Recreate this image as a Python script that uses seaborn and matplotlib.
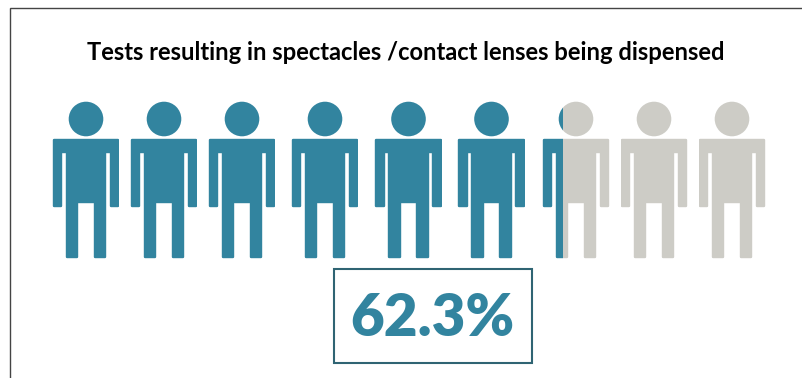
import matplotlib
matplotlib.use("Agg")
import matplotlib.pyplot as plt
from matplotlib.patches import Circle, PathPatch, Rectangle
from matplotlib.path import Path
import seaborn as sns

sns.set_theme(style="white")
plt.rcParams["font.family"] = ["Lato", "DejaVu Sans"]

title_text = "Tests resulting in spectacles /contact lenses being dispensed"
headline_value = 62.3
filled_share = [1, 1, 1, 1, 1, 1, 0.306, 0, 0]
icon_centres = [86, 164, 242, 325, 408.5, 491.5, 576, 654, 732]

TEAL = "#32849F"
STONE = "#CDCCC6"
BOX_EDGE = "#2F6473"
FRAME = "#444444"

# Half a silhouette from the shoulder centre outwards and down to the foot.
# The outline sits inset by the stroke radius, so the stroke rounds the corners.
INSET = 1.2
HALF_BODY = [(0, 139 + INSET), (33.4 - INSET, 139 + INSET), (33.4 - INSET, 207.3 - INSET),
             (23.6 + INSET, 207.3 - INSET), (23.6 + INSET, 152.7 - INSET),
             (20.4 - INSET, 152.7 - INSET), (20.4 - INSET, 258 - INSET),
             (7.6 + INSET, 258 - INSET), (7.6 + INSET, 203.3 - INSET), (0, 203.3 - INSET)]


def body_path(cx):
    right = [(cx + dx, y) for dx, y in HALF_BODY]
    left = [(cx - dx, y) for dx, y in reversed(HALF_BODY)]
    verts = right + left
    return Path(verts + [verts[0]], [Path.MOVETO] + [Path.LINETO] * (len(verts) - 1) + [Path.CLOSEPOLY])


fig = plt.figure(figsize=(8.02, 3.78), dpi=100)
ax = fig.add_axes([0, 0, 1, 1])
ax.set_xlim(0, 802)
ax.set_ylim(378, 0)
ax.axis("off")


def draw_icon(cx, color, clip=None):
    stroke = 2 * INSET * 72 / fig.dpi
    for patch in (PathPatch(body_path(cx), fc=color, ec=color, lw=stroke, joinstyle="round"),
                  Circle((cx, 119), 17.3, fc=color, ec="none")):
        ax.add_patch(patch)
        if clip is not None:
            patch.set_clip_path(clip)


for cx, share in zip(icon_centres, filled_share):
    left, right = cx - 35, cx + 35
    split = cx - 33.4 + 66.8 * share
    if share > 0:
        draw_icon(cx, TEAL, Rectangle((left, 90), split - left, 180, transform=ax.transData))
    if share < 1:
        draw_icon(cx, STONE, Rectangle((split, 90), right - split, 180, transform=ax.transData))

# Frame along the top and left edges of the slide.
ax.plot([10.3, 10.3, 802], [378, 8.2, 8.2], color=FRAME, lw=1.0, solid_joinstyle="miter")

ax.text(406, 52, title_text, ha="center", va="center", fontsize=17.1,
        fontweight="bold", color="black")

ax.add_patch(Rectangle((333.7, 269), 198.3, 94, fc="white", ec=BOX_EDGE, lw=1.5))
ax.text(432.5, 318, f"{headline_value}%", ha="center", va="center", fontsize=42,
        fontweight="heavy", color=TEAL)

fig.savefig("out.png", dpi=100, facecolor="white")
